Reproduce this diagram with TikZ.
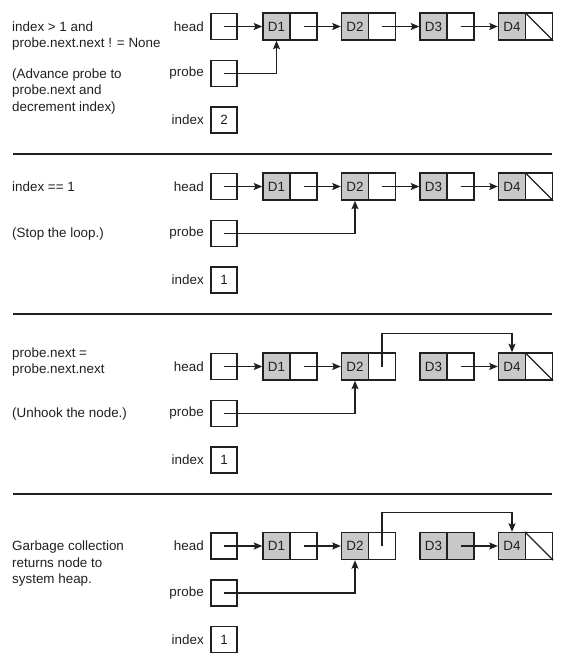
\documentclass[tikz,border=0pt]{standalone}
\usepackage{fontspec}
\setmainfont{Liberation Sans}
\usetikzlibrary{arrows.meta,positioning}
\definecolor{ink}{RGB}{35,31,32}
\definecolor{cellgray}{RGB}{200,200,200}

\begin{document}
\begin{tikzpicture}[
    x=1pt, y=1pt,
    node distance=27pt,
    font=\fontsize{13.4}{16.5}\selectfont,
    var/.style={rectangle, draw=ink, line width=1.4pt, text=ink, minimum width=26pt, minimum height=26pt, inner sep=0pt},
    data/.style={rectangle, draw=ink, fill=cellgray, line width=1.4pt, text=ink, minimum width=27pt, minimum height=27pt, inner sep=0pt},
    ptr/.style={rectangle, draw=ink, line width=1.4pt, minimum width=27pt, minimum height=27pt, inner sep=0pt},
    varlabel/.style={anchor=east, xshift=-3pt, text=ink},
    note/.style={anchor=west, align=left, inner sep=0pt, text=ink},
    arrow/.style={-{Stealth[length=8.5pt, width=7pt, inset=1.5pt]}, draw=ink, line width=1.2pt},
    link/.style={draw=ink, line width=1.2pt},
    rule/.style={draw=ink, line width=1.6pt}
]
\useasboundingbox (0,0) rectangle (575,-666);

% Panel 1: advance probe
\node[note] (tA1) at (12,-36) {index > 1 and\\probe.next.next ! = None};
\node[note] (tA2) at (12,-91.4) {(Advance probe to\\probe.next and\\decrement index)};

\node[var] (hA) at (224,-26.5) {};
\node[var, below of=hA, yshift=-20pt] (prA) {};
\node[var, below of=prA, yshift=-19.5pt] (ixA) {2};
\node[varlabel] (lhA) at (hA.west) {head};
\node[varlabel] (lprA) at (prA.west) {probe};
\node[varlabel] (lixA) at (ixA.west) {index};

\node[data, right of=hA, xshift=25.5pt] (dA1) {D1};
\node[ptr, right of=dA1] (pA1) {};
\node[data, right of=pA1, xshift=24.5pt] (dA2) {D2};
\node[ptr, right of=dA2] (pA2) {};
\node[data, right of=pA2, xshift=24.5pt] (dA3) {D3};
\node[ptr, right of=dA3] (pA3) {};
\node[data, right of=pA3, xshift=24.5pt] (dA4) {D4};
\node[ptr, right of=dA4] (nA) {};

\draw[arrow] (hA.center) -- (dA1.west);
\draw[arrow] (pA1.center) -- (dA2.west);
\draw[arrow] (pA2.center) -- (dA3.west);
\draw[arrow] (pA3.center) -- (dA4.west);
\draw[arrow] (prA.center) -| (dA1.south);
\draw[link] (nA.north west) -- (nA.south east);

\draw[rule] (13,-154) -- (552,-154);

% Panel 2: stop the loop
\node[note] (tB1) at (12,-186.7) {index == 1};
\node[note] (tB2) at (12,-234) {(Stop the loop.)};

\node[var] (hB) at (224,-186.5) {};
\node[var, below of=hB, yshift=-20pt] (prB) {};
\node[var, below of=prB, yshift=-19.5pt] (ixB) {1};
\node[varlabel] (lhB) at (hB.west) {head};
\node[varlabel] (lprB) at (prB.west) {probe};
\node[varlabel] (lixB) at (ixB.west) {index};

\node[data, right of=hB, xshift=25.5pt] (dB1) {D1};
\node[ptr, right of=dB1] (pB1) {};
\node[data, right of=pB1, xshift=24.5pt] (dB2) {D2};
\node[ptr, right of=dB2] (pB2) {};
\node[data, right of=pB2, xshift=24.5pt] (dB3) {D3};
\node[ptr, right of=dB3] (pB3) {};
\node[data, right of=pB3, xshift=24.5pt] (dB4) {D4};
\node[ptr, right of=dB4] (nB) {};

\draw[arrow] (hB.center) -- (dB1.west);
\draw[arrow] (pB1.center) -- (dB2.west);
\draw[arrow] (pB2.center) -- (dB3.west);
\draw[arrow] (pB3.center) -- (dB4.west);
\draw[arrow] (prB.center) -| (dB2.south);
\draw[link] (nB.north west) -- (nB.south east);

\draw[rule] (13,-314) -- (552,-314);

% Panel 3: unhook the node
\node[note] (tC1) at (12,-362) {probe.next =\\probe.next.next};
\node[note] (tC2) at (12,-414) {(Unhook the node.)};

\node[var] (hC) at (224,-366.5) {};
\node[var, below of=hC, yshift=-20pt] (prC) {};
\node[var, below of=prC, yshift=-19.5pt] (ixC) {1};
\node[varlabel] (lhC) at (hC.west) {head};
\node[varlabel] (lprC) at (prC.west) {probe};
\node[varlabel] (lixC) at (ixC.west) {index};

\node[data, right of=hC, xshift=25.5pt] (dC1) {D1};
\node[ptr, right of=dC1] (pC1) {};
\node[data, right of=pC1, xshift=24.5pt] (dC2) {D2};
\node[ptr, right of=dC2] (pC2) {};
\node[data, right of=pC2, xshift=24.5pt] (dC3) {D3};
\node[ptr, right of=dC3] (pC3) {};
\node[data, right of=pC3, xshift=24.5pt] (dC4) {D4};
\node[ptr, right of=dC4] (nC) {};
\coordinate (upC) at ([yshift=19pt]dC4.north);

\draw[arrow] (hC.center) -- (dC1.west);
\draw[arrow] (pC1.center) -- (dC2.west);
\draw[arrow] (pC2.center) |- (upC) -- (dC4.north);
\draw[arrow] (pC3.center) -- (dC4.west);
\draw[arrow] (prC.center) -| (dC2.south);
\draw[link] (nC.north west) -- (nC.south east);

\draw[rule] (13,-494) -- (552,-494);

% Panel 4: garbage collection
\node[note] (tD1) at (12,-564) {Garbage collection\\returns node to\\system heap.};

\node[var] (hD) at (224,-546) {};
\node[var, below of=hD, yshift=-20pt] (prD) {};
\node[var, below of=prD, yshift=-19.5pt] (ixD) {1};
\node[varlabel] (lhD) at (hD.west) {head};
\node[varlabel] (lprD) at (prD.west) {probe};
\node[varlabel] (lixD) at (ixD.west) {index};

\node[data, right of=hD, xshift=25.5pt] (dD1) {D1};
\node[ptr, right of=dD1] (pD1) {};
\node[data, right of=pD1, xshift=24.5pt] (dD2) {D2};
\node[ptr, right of=dD2] (pD2) {};
\node[data, right of=pD2, xshift=24.5pt] (dD3) {D3};
\node[data, right of=dD3] (pD3) {};
\node[data, right of=pD3, xshift=24.5pt] (dD4) {D4};
\node[ptr, right of=dD4] (nD) {};
\coordinate (upD) at ([yshift=19pt]dD4.north);

\draw[arrow] (hD.center) -- (dD1.west);
\draw[arrow] (pD1.center) -- (dD2.west);
\draw[arrow] (pD2.center) |- (upD) -- (dD4.north);
\draw[arrow] (pD3.center) -- (dD4.west);
\draw[arrow] (prD.center) -| (dD2.south);
\draw[link] (nD.north west) -- (nD.south east);

\end{tikzpicture}
\end{document}
